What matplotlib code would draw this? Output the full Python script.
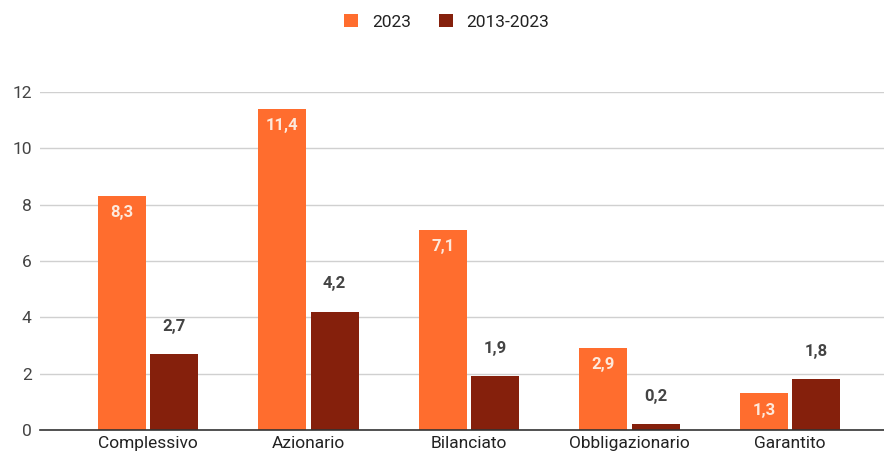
import matplotlib
matplotlib.use("Agg")
import matplotlib.pyplot as plt
import numpy as np

categories = ["Complessivo", "Azionario", "Bilanciato", "Obbligazionario", "Garantito"]
values_2023 = [8.3, 11.4, 7.1, 2.9, 1.3]
values_2013_2023 = [2.7, 4.2, 1.9, 0.2, 1.8]
series_names = ["2023", "2013-2023"]
y_ticks = [0, 2, 4, 6, 8, 10, 12]

orange = "#ff6d2e"
dark = "#85200c"

plt.rcParams["font.family"] = ["Roboto", "DejaVu Sans"]

W, H = 884, 454
fig = plt.figure(figsize=(W / 100, H / 100), dpi=100)
ax = fig.add_axes([40 / W, 24 / H, (W - 40) / W, (430 - 92) / H])

x = np.arange(len(categories))
bw = 0.30
gap = 0.025
b1 = ax.bar(x - bw / 2 - gap / 2, values_2023, bw, color=orange, label=series_names[0], zorder=3)
b2 = ax.bar(x + bw / 2 + gap / 2, values_2013_2023, bw, color=dark, label=series_names[1], zorder=3)

def fmt(v):
    return f"{v:.1f}".replace(".", ",")

for rect, v in zip(b1, values_2023):
    ax.annotate(fmt(v), (rect.get_x() + rect.get_width() / 2, v), xytext=(0, -12),
                textcoords="offset points", ha="center", va="center",
                color="#fde9dc", fontsize=12, fontweight="bold", zorder=4)
for rect, v in zip(b2, values_2013_2023):
    ax.annotate(fmt(v), (rect.get_x() + rect.get_width() / 2, v), xytext=(0, 20),
                textcoords="offset points", ha="center", va="center",
                color="#444444", fontsize=12, fontweight="bold", zorder=4)

ax.set_ylim(0, 12)
ax.set_xlim((40 - 148) / 160.5, (884 - 148) / 160.5)
ax.set_yticks(y_ticks)
ax.set_yticklabels([str(t) for t in y_ticks], fontsize=12.5, color="#444444")
ax.set_xticks(x)
ax.set_xticklabels(categories, fontsize=12.5, color="#222222")
ax.tick_params(axis="both", length=0)
ax.tick_params(axis="x", pad=4.5)
ax.tick_params(axis="y", pad=6)
ax.grid(axis="y", color="#d0d0d0", linewidth=1, zorder=0)
for s in ["top", "right", "left"]:
    ax.spines[s].set_visible(False)
ax.spines["bottom"].set_color("#333333")
ax.spines["bottom"].set_linewidth(1.2)
ax.spines["bottom"].set_zorder(5)

fig.legend(loc="center", bbox_to_anchor=(447 / W, 1 - 22 / H), ncol=2, frameon=False,
           fontsize=12.5, handlelength=0.8, handleheight=0.8, handletextpad=0.8,
           columnspacing=1.6, labelcolor="#222222")

fig.savefig("out.png", dpi=100)
